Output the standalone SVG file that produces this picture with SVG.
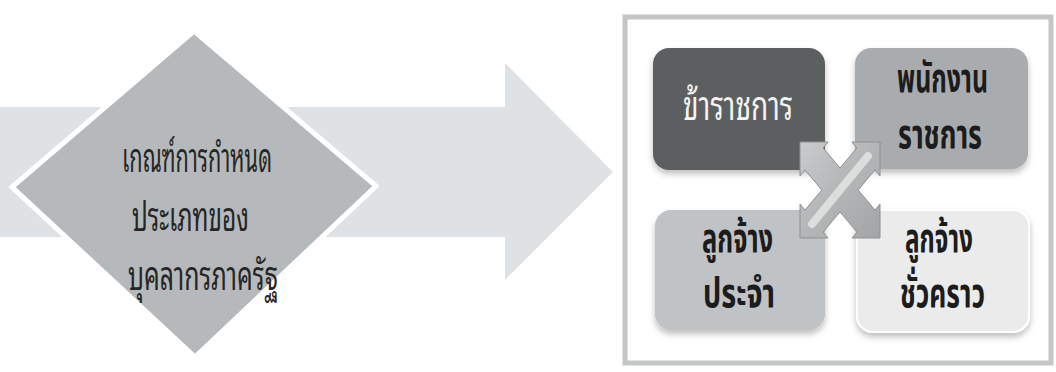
<svg xmlns="http://www.w3.org/2000/svg" width="1056" height="372" viewBox="0 0 1056 372">
<style>
.th{font-family:"Noto Sans Thai","Noto Sans","DejaVu Sans",sans-serif;}
.lp{font-family:"Noto Sans Thai Looped","Noto Serif Thai","Noto Sans Thai","Noto Sans",serif;}
.lt{font-size:40px;fill:#262626;}
.bt{font-size:40px;font-weight:bold;fill:#1c1c1c;}
.wt{font-size:40px;fill:#f4f4f4;}
</style>
<defs>
<linearGradient id="gx" x1="0" y1="0" x2="1" y2="1">
<stop offset="0" stop-color="#c9cbcc"/><stop offset="0.5" stop-color="#b3b5b6"/><stop offset="1" stop-color="#a2a4a5"/>
</linearGradient>
<filter id="sh" x="-10%" y="-10%" width="120%" height="130%">
<feDropShadow dx="0" dy="4" stdDeviation="3" flood-color="#000" flood-opacity="0.25"/>
</filter>
</defs>
<rect width="1056" height="372" fill="#ffffff"/>
<g id="connectors">
<polygon points="0,107 505,107 505,63 613,172 505,280 505,237 0,237" fill="#dfe2e4"/>
</g>
<g id="criteria">
<polygon points="194,31 376,186 195,357 12,187" fill="#b5b9bb" stroke="#ffffff" stroke-width="5" stroke-linejoin="miter"/>
<text class="lp lt" x="122" y="172" textLength="150" lengthAdjust="spacingAndGlyphs">เกณฑ์การกำหนด</text>
<text class="lp lt" x="132" y="231" textLength="117" lengthAdjust="spacingAndGlyphs">ประเภทของ</text>
<text class="lp lt" x="128" y="290" textLength="150" lengthAdjust="spacingAndGlyphs">บุคลากรภาครัฐ</text>
</g>
<g id="frame">
<rect x="625" y="17" width="426" height="346" fill="#ffffff" stroke="#c3c5c6" stroke-width="5"/>
</g>
<g id="civil-servant">
<rect x="653" y="48" width="172" height="122" rx="16" fill="#5c5f61" filter="url(#sh)"/>
<text class="lp wt" x="683" y="120" textLength="110" lengthAdjust="spacingAndGlyphs">ข้าราชการ</text>
</g>
<g id="government-employee">
<rect x="855" y="48" width="173" height="121" rx="16" fill="#a9acae" filter="url(#sh)"/>
<text class="th bt" x="897" y="92" textLength="91" lengthAdjust="spacingAndGlyphs">พนักงาน</text>
<text class="th bt" x="898" y="148" textLength="84" lengthAdjust="spacingAndGlyphs">ราชการ</text>
</g>
<g id="permanent-employee">
<rect x="655" y="210" width="170" height="120" rx="16" fill="#c0c3c5" filter="url(#sh)"/>
<text class="th bt" x="702" y="252" textLength="71" lengthAdjust="spacingAndGlyphs">ลูกจ้าง</text>
<text class="th bt" x="703" y="307" textLength="72" lengthAdjust="spacingAndGlyphs">ประจำ</text>
</g>
<g id="temporary-employee">
<rect x="857" y="210" width="172" height="122" rx="16" fill="#ebebeb" stroke="#ffffff" stroke-width="2" filter="url(#sh)"/>
<text class="th bt" x="905" y="252" textLength="68" lengthAdjust="spacingAndGlyphs">ลูกจ้าง</text>
<text class="th bt" x="900" y="307" textLength="85" lengthAdjust="spacingAndGlyphs">ชั่วคราว</text>
</g>
<g id="cross-arrows" transform="translate(840,190)">
<polygon points="0,-21.9 16.9,-42.1 12,-48 40,-48 40,-14 35,-20.1 18.2,0 35,20.1 40,14 40,48 12,48 16.9,42.1 0,21.9 -16.9,42.1 -12,48 -40,48 -40,14 -35,20.1 -18.2,0 -35,-20.1 -40,-14 -40,-48 -12,-48 -16.9,-42.1" fill="url(#gx)" stroke="#8e9091" stroke-width="1"/>
<line x1="-28" y1="34" x2="28" y2="-34" stroke="#dcdddd" stroke-width="8" stroke-linecap="round"/>
</g>
</svg>
